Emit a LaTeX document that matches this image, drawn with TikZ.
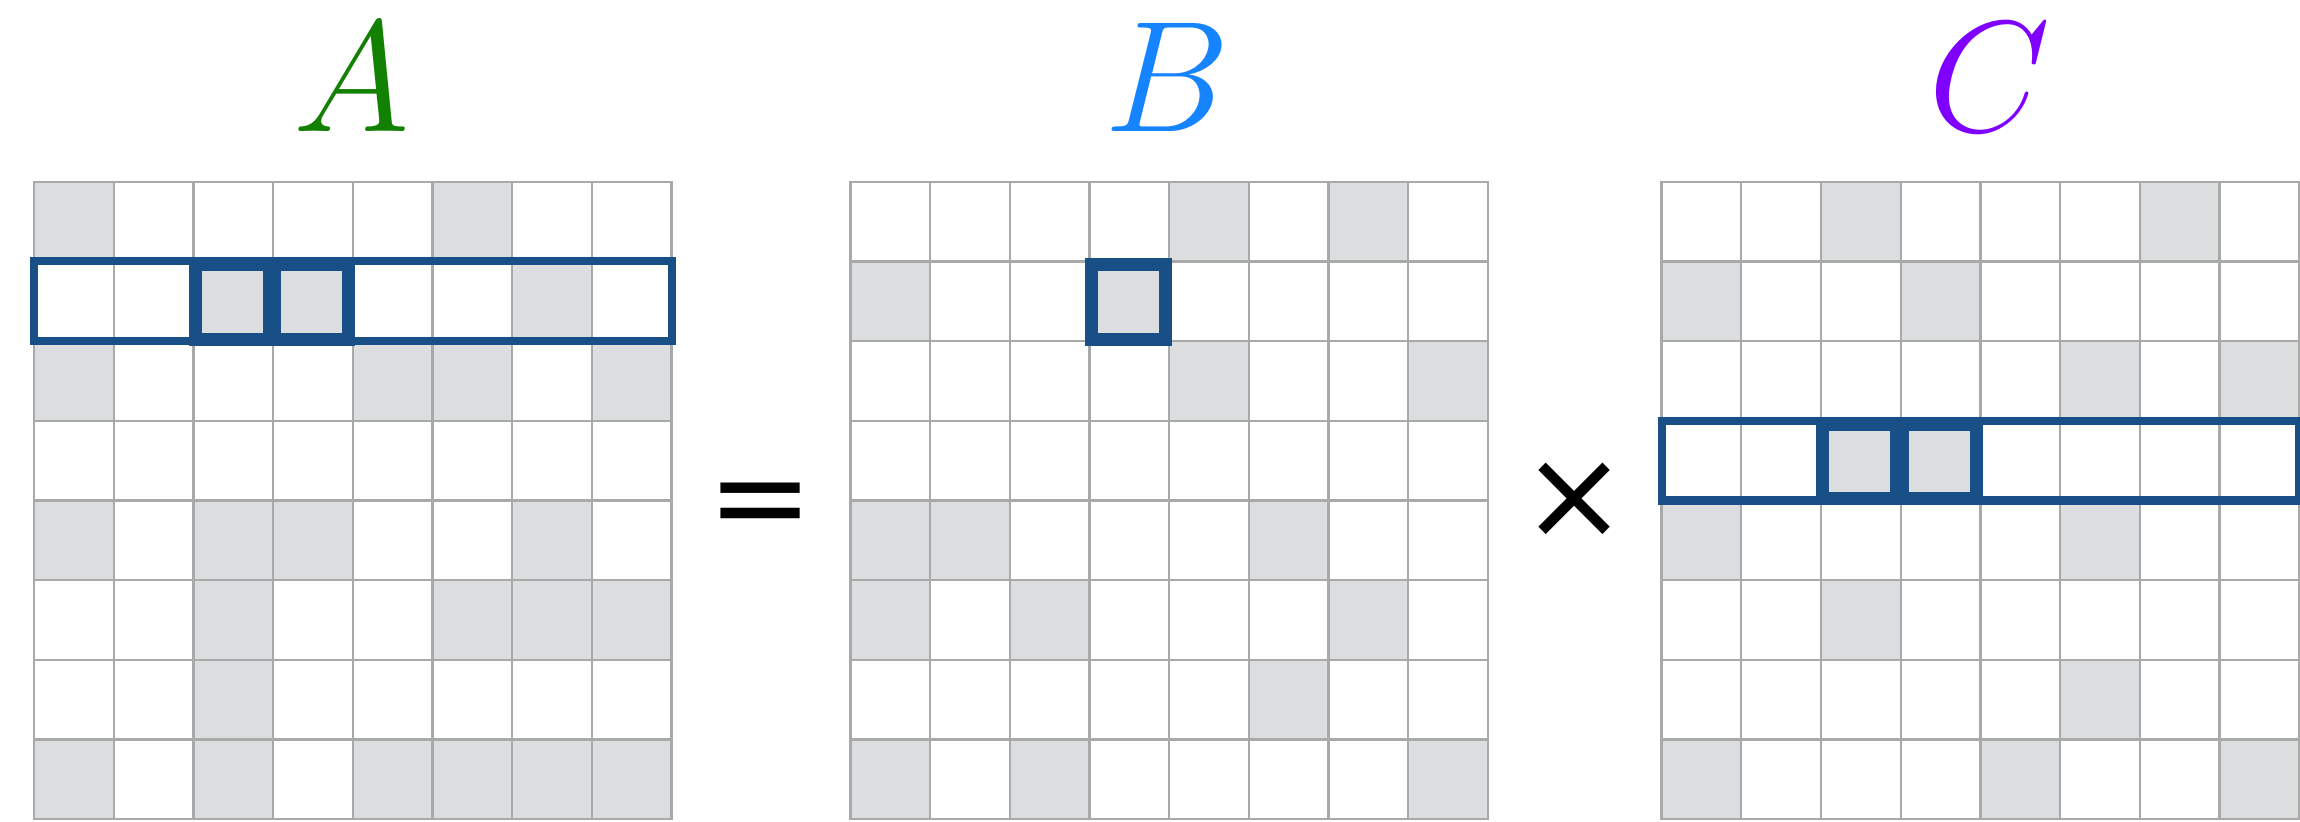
\documentclass[tikz,border=0pt]{standalone}
\usepackage{fix-cm}
\usepackage{fontspec}
\newfontfamily\opfont{DejaVu Sans}
\definecolor{gridgray}{HTML}{A8AAA9}
\definecolor{cellfillc}{HTML}{DCDDDF}
\definecolor{hlblue}{HTML}{184F86}
\definecolor{agreen}{HTML}{128000}
\definecolor{bblue}{HTML}{1684FF}
\definecolor{cpurple}{HTML}{7F00FF}
\newcommand\cs{79.7}
\newcommand\yo{181.7}
\newcommand\drawmat[2]{%
  \foreach \r/\c in {#2} {\fill[cellfill] ({#1+\c*\cs},{\yo+\r*\cs}) rectangle ++(\cs,\cs);}
  \foreach \i in {0,...,8} {%
    \draw[gridline] ({#1+\i*\cs},\yo) -- ++(0,{8*\cs});
    \draw[gridline] (#1,{\yo+\i*\cs}) -- ++({8*\cs},0);}
}
\newcommand\rowhl[2]{\draw[rowbox] (#1,{\yo+#2*\cs}) rectangle ++({8*\cs},\cs);}
\newcommand\cellhl[3]{\draw[cellbox] ({#1+#3*\cs+1.7},{\yo+#2*\cs+3.5}) rectangle ({#1+(#3+1)*\cs-4},{\yo+(#2+1)*\cs-2});}
\begin{document}
\begin{tikzpicture}[x=0.01cm,y=-0.01cm,
  cellfill/.style={fill=cellfillc},
  gridline/.style={draw=gridgray,line width=0.65pt,line cap=rect},
  rowbox/.style={draw=hlblue,line width=2.3pt},
  cellbox/.style={draw=hlblue,line width=3.7pt},
  matlabel/.style={anchor=base,inner sep=0pt,font=\fontsize{45}{54}\selectfont},
  opsym/.style={font=\opfont\fontsize{36}{40}\selectfont,inner sep=0pt}]
\useasboundingbox (0,0) rectangle (2300,821);
\fill[white] (0,0) rectangle (2300,821);
% matrix A
\drawmat{34}{0/0,0/5,1/2,1/3,1/6,2/0,2/4,2/5,2/7,4/0,4/2,4/3,4/6,5/2,5/5,5/6,5/7,6/2,7/0,7/2,7/4,7/5,7/6,7/7}
% matrix B
\drawmat{850.4}{0/4,0/6,1/0,1/3,2/4,2/7,4/0,4/1,4/5,5/0,5/2,5/6,6/5,7/0,7/2,7/7}
% matrix C
\drawmat{1661.6}{0/2,0/6,1/0,1/3,2/5,2/7,3/2,3/3,4/0,4/5,5/2,6/5,7/0,7/4,7/7}
% highlights
\rowhl{34}{1}
\cellhl{34}{1}{2}
\cellhl{34}{1}{3}
\cellhl{850.4}{1}{3}
\rowhl{1661.6}{3}
\cellhl{1661.6}{3}{2}
\cellhl{1661.6}{3}{3}
% labels
\node[matlabel,text=agreen] (labA) at (352,131) {$A$};
\node[matlabel,text=bblue] (labB) at (1167,131) {$B$};
\node[matlabel,text=cpurple] (labC) at (1990,131) {$C$};
\node[opsym] (eq) at (761,512) {=};
\node[opsym] (times) at (1575,501) {×};
\end{tikzpicture}
\end{document}
